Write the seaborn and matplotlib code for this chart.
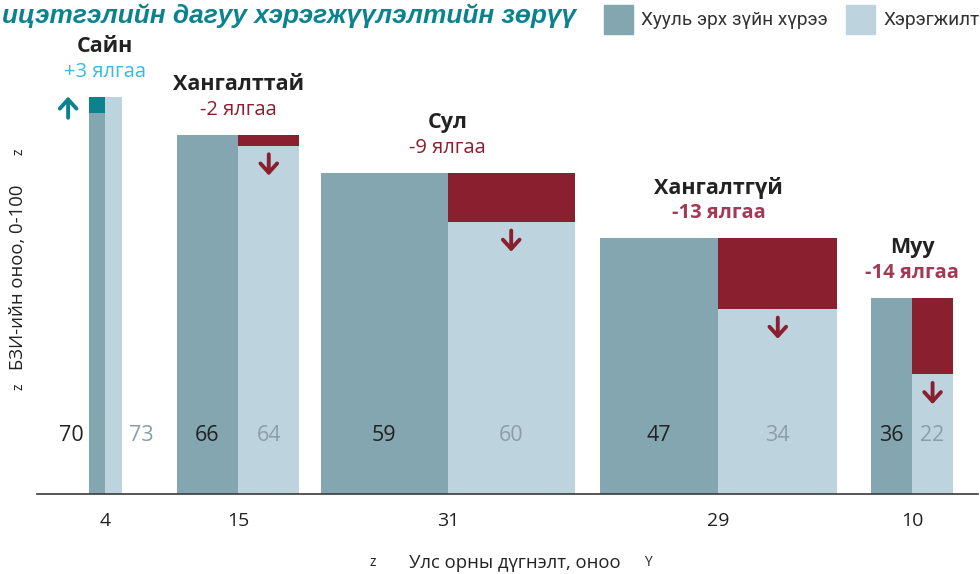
import matplotlib
matplotlib.use("Agg")
import matplotlib.pyplot as plt
import seaborn as sns
from matplotlib.patches import Rectangle

# Data:
categories = ["Сайн", "Хангалттай", "Сул", "Хангалтгүй", "Муу"]
counts = [4, 15, 31, 29, 10]
legal = [70, 66, 59, 47, 36]
impl = [73, 64, 50, 34, 22]
impl_labels = ["73", "64", "60", "34", "22"]

# Colours:
DARK = "#83a6b1"
LIGHT = "#bdd4de"
RED = "#8a1f30"
TEAL = "#0b838f"

sns.set_theme(style="white")
plt.rcParams["font.family"] = ["Open Sans", "DejaVu Sans"]

fig = plt.figure(figsize=(9.8, 5.74), dpi=100)
ax = fig.add_axes([37 / 980, 80 / 574, 941 / 980, 490 / 574])
ax.set_xlim(0, 941 / 8.19)
ax.set_ylim(0, 90)

# Space before each group, in x units:
gaps = [6.35, 6.7, 2.6, 3.05, 4.15]
starts = []
x = 0
for g, n in zip(gaps, counts):
    x += g
    starts.append(x)
    x += n
half = [n / 2 for n in counts]
mids = [s + h for s, h in zip(starts, half)]

# Bars:
ax.bar(starts, legal, width=half, align="edge", color=DARK, linewidth=0)
ax.bar(mids, impl, width=half, align="edge", color=LIGHT, linewidth=0)

arrow = dict(arrowstyle="->,head_length=0.55,head_width=0.5", lw=2.8,
             shrinkA=0, shrinkB=0)

for i in range(len(categories)):
    d = impl[i] - legal[i]
    top = max(legal[i], impl[i])
    if d > 0:
        ax.bar(starts[i], d, bottom=legal[i], width=half[i], align="edge",
               color=TEAL, linewidth=0)
        ax.annotate("", xy=(starts[i] - 2.55, impl[i]),
                    xytext=(starts[i] - 2.55, impl[i] - 3.9),
                    arrowprops=dict(arrow, color=TEAL))
        gcol, gw = "#3bb9e3", "normal"
    else:
        ax.bar(mids[i], -d, bottom=impl[i], width=half[i], align="edge",
               color=RED, linewidth=0)
        cx = mids[i] + half[i] / 2
        ax.annotate("", xy=(cx, impl[i] - 5.5), xytext=(cx, impl[i] - 1.6),
                    arrowprops=dict(arrow, color=RED))
        gcol = RED if d > -10 else "#a23a55"
        gw = "normal" if d > -10 else "bold"

    # Group titles:
    ax.annotate(categories[i], (mids[i], top), xytext=(0, 36),
                textcoords="offset points", ha="center", va="center",
                fontsize=15.5, fontweight="bold", color="#222222")
    ax.annotate(f"{d:+d} ялгаа", (mids[i], top), xytext=(0, 18),
                textcoords="offset points", ha="center", va="center",
                fontsize=14.5, fontweight=gw, color=gcol)

    # Value labels:
    if half[i] < 3:
        ax.annotate(str(legal[i]), (starts[i], 10.7), xytext=(-4, 0),
                    textcoords="offset points", ha="right", va="center",
                    fontsize=15.5, color="#222222")
        ax.annotate(impl_labels[i], (mids[i] + half[i], 10.7), xytext=(5, 0),
                    textcoords="offset points", ha="left", va="center",
                    fontsize=15.5, color="#8b9ea8")
    else:
        ax.text(starts[i] + half[i] / 2, 10.7, str(legal[i]), ha="center",
                va="center", fontsize=15.5, color="#222222")
        ax.text(mids[i] + half[i] / 2, 10.7, impl_labels[i], ha="center",
                va="center", fontsize=15.5, color="#8b9ea8")

# Axes styling:
ax.spines[["top", "left", "right"]].set_visible(False)
ax.spines["bottom"].set_color("#3a3a3a")
ax.spines["bottom"].set_linewidth(1.2)
ax.set_yticks([])
ax.set_xticks(mids, [str(c) for c in counts])
ax.tick_params(axis="x", length=0, pad=13, labelsize=14, labelcolor="#222222")

# Axis titles:
fig.text(515 / 980, 1 - 563 / 574, "Улс орны дүгнэлт, оноо", ha="center",
         va="center", fontsize=13.3, color="#222222")
fig.text(373 / 980, 1 - 563 / 574, "z", ha="center", va="center", fontsize=10,
         color="#222222")
fig.text(648 / 980, 1 - 563 / 574, "Y", ha="center", va="center", fontsize=10,
         color="#222222")
fig.text(18 / 980, 1 - 277 / 574, "БЗИ-ийн оноо, 0-100", rotation=90,
         ha="center", va="center", fontsize=13.3, color="#222222")
for yy in [152, 387]:
    fig.text(19 / 980, 1 - yy / 574, "z", rotation=90, ha="center",
             va="center", fontsize=10, color="#222222")

# Title:
fig.text(2 / 980, 1 - 16 / 574, "ицэтгэлийн дагуу хэрэгжүүлэлтийн зөрүү",
         ha="left", va="center", fontsize=18.9, fontweight="bold",
         fontstyle="italic", color=TEAL,
         family=["Liberation Sans", "DejaVu Sans"])

# Legend:
for x0, col, txt in [(604, DARK, "Хууль эрх зүйн хүрээ"),
                     (846, LIGHT, "Хэрэгжилт")]:
    fig.patches.append(Rectangle((x0 / 980, 1 - 34 / 574), 29 / 980, 29 / 574,
                                 transform=fig.transFigure, color=col))
    fig.text((x0 + 37) / 980, 1 - 20 / 574, txt, ha="left", va="center",
             fontsize=13.7, color="#333333", family=["Roboto", "DejaVu Sans"])

plt.savefig("out.png", dpi=100)
